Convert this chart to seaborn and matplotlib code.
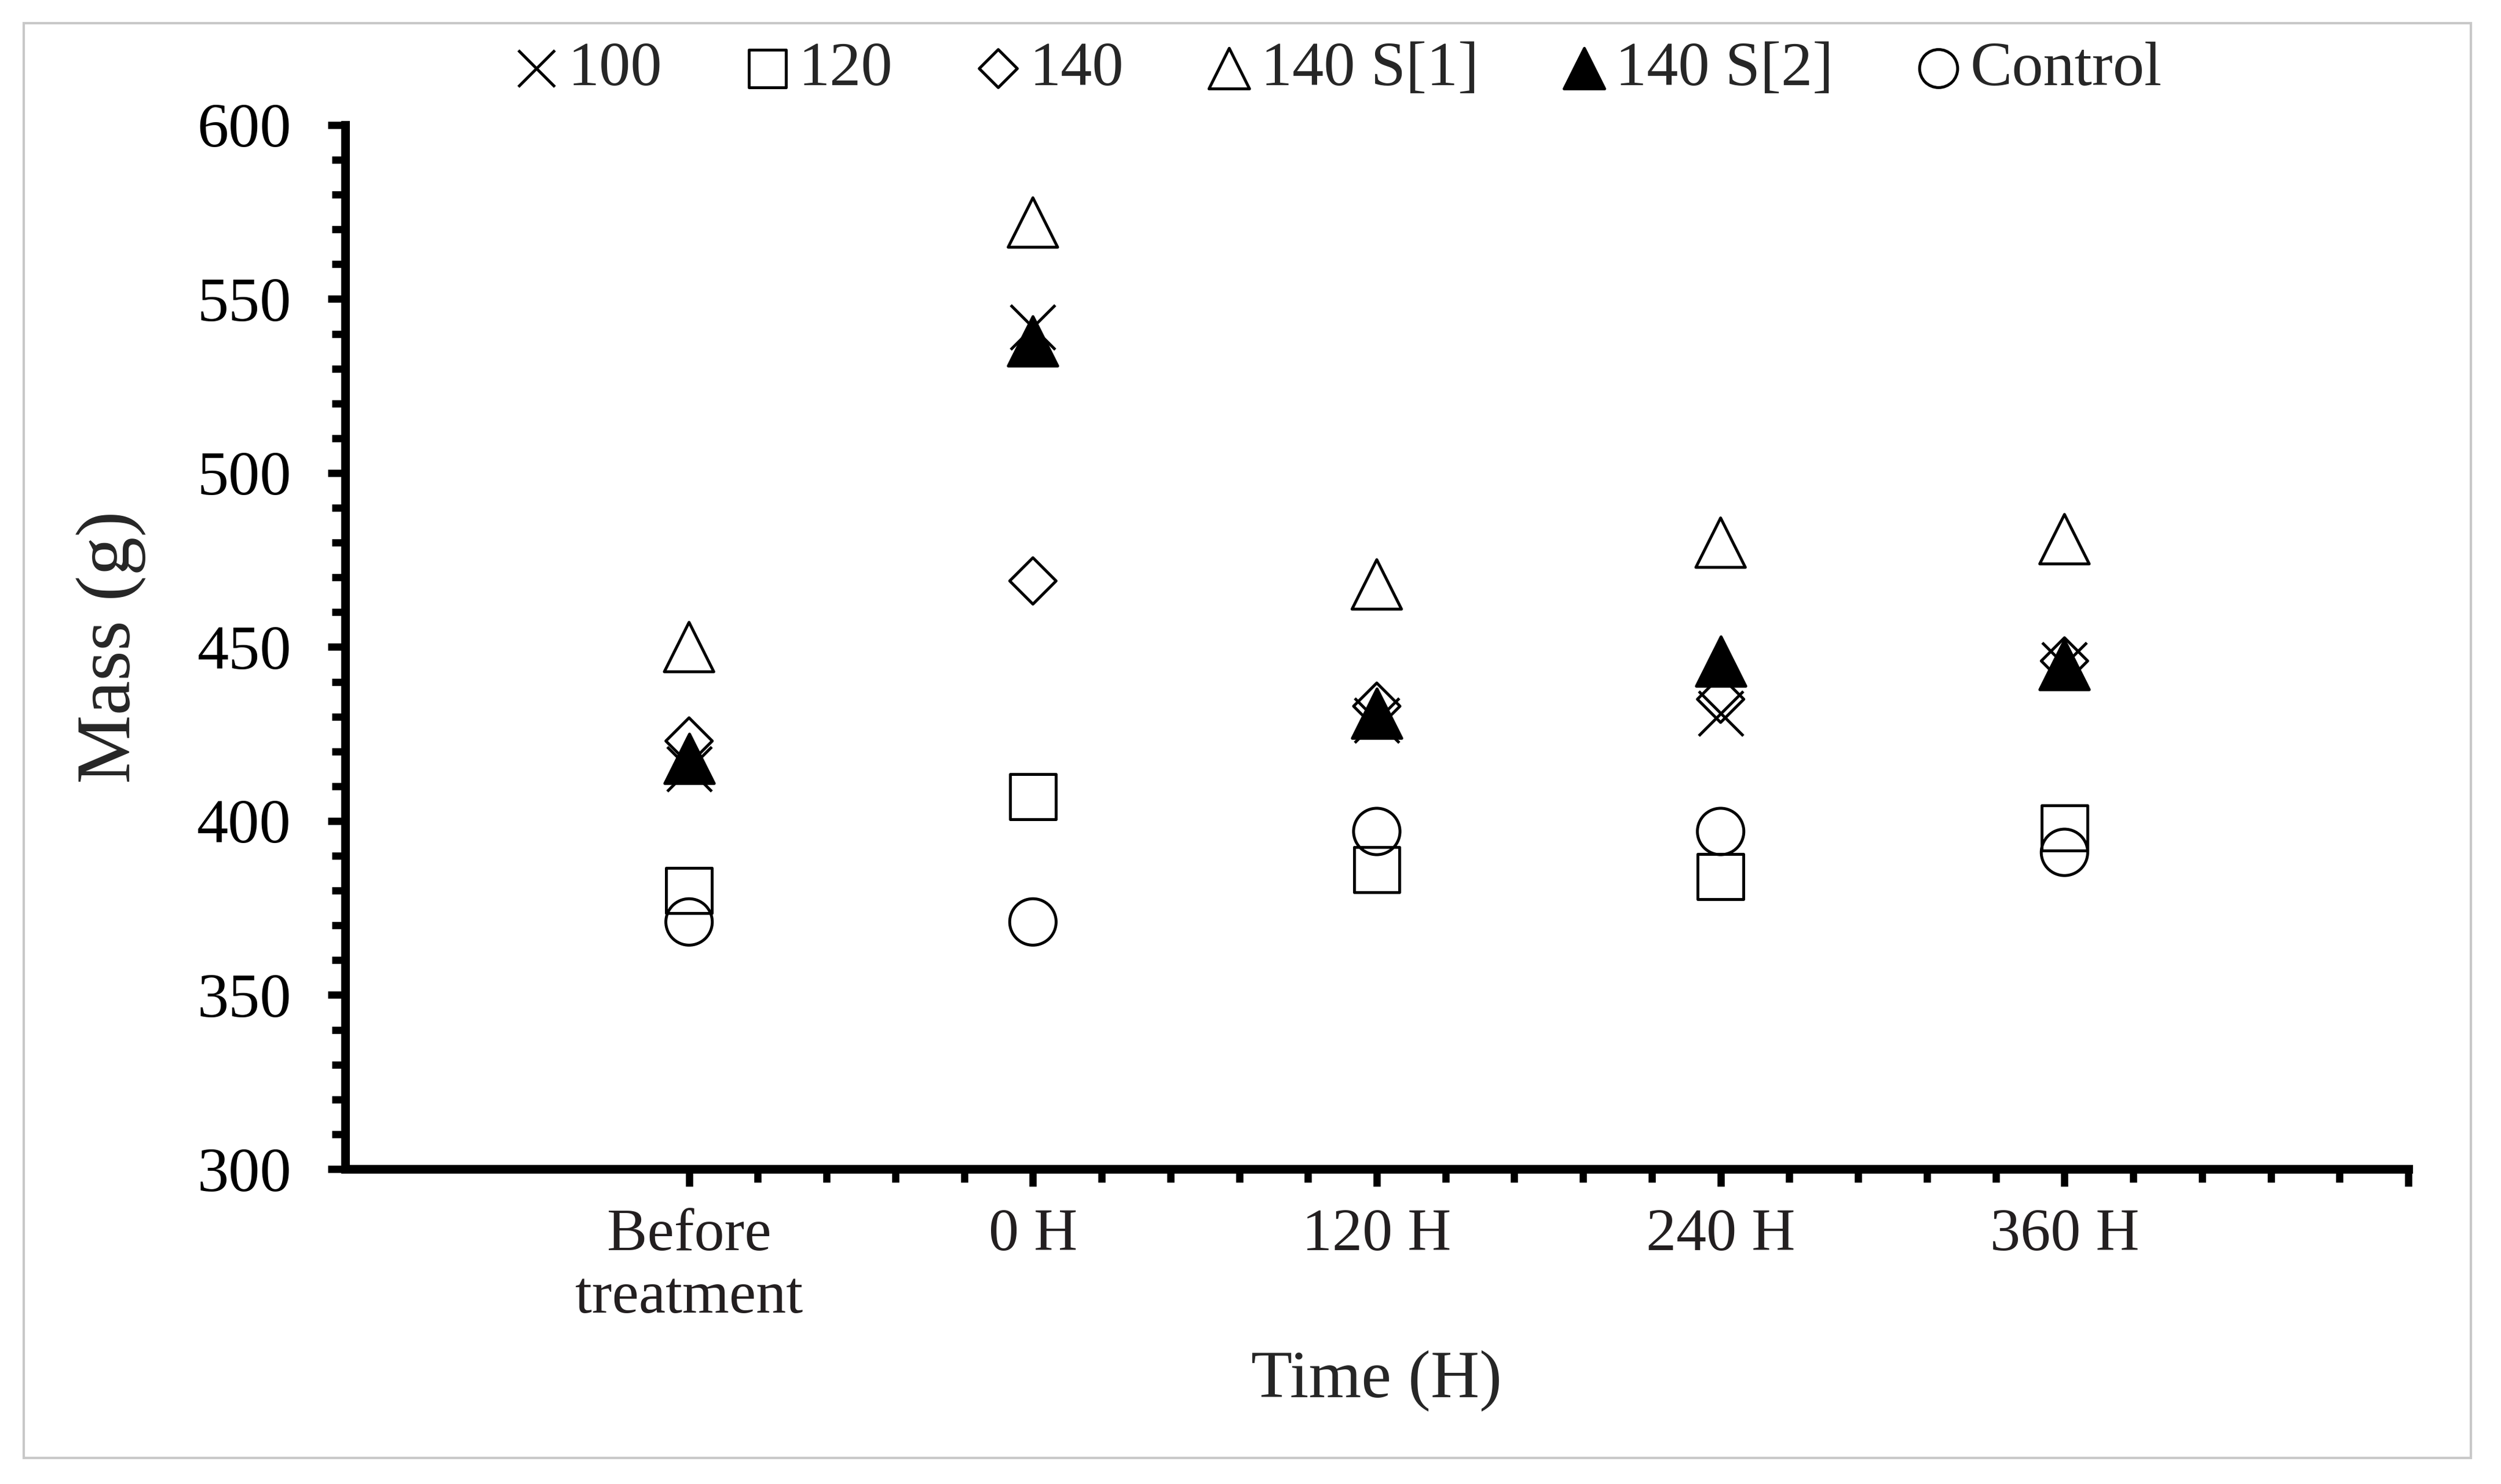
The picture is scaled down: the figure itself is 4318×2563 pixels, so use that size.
import numpy as np
import pandas as pd
import matplotlib
matplotlib.use('Agg')
import matplotlib.pyplot as plt
from matplotlib.ticker import FixedLocator, MultipleLocator
from matplotlib.patches import Rectangle
import seaborn as sns

# Data
categories = ['Before\ntreatment', '0 H', '120 H', '240 H', '360 H']
mass_100 = [415, 542, 429, 431, 445]
mass_120 = [380, 407, 386, 384, 398]
mass_140 = [423, 469, 433, 435, 446]
mass_140_s1 = [450, 572, 468, 480, 481]
mass_140_s2 = [418, 538, 431, 446, 445]
mass_control = [371, 371, 397, 397, 391]

series_names = ['100', '120', '140', '140 S[1]', '140 S[2]', 'Control']
series_values = [mass_100, mass_120, mass_140, mass_140_s1, mass_140_s2, mass_control]

# marker, size (pt^2), face colour
styles = {
    '100': ('x', 340, 'black'),
    '120': ('s', 355, 'none'),
    '140': ('D', 185, 'none'),
    '140 S[1]': ('^', 420, 'none'),
    '140 S[2]': ('^', 420, 'black'),
    'Control': ('o', 370, 'none'),
}

rows = []
for name, vals in zip(series_names, series_values):
    for i, v in enumerate(vals):
        rows.append({'Series': name, 'Pos': i, 'Mass': v})
data = pd.DataFrame(rows)

sns.set_style('ticks')
plt.rcParams['font.family'] = ['Liberation Serif', 'DejaVu Serif']

fig = plt.figure(figsize=(4318 / 300, 2563 / 300), dpi=300)
ax = fig.add_axes([596 / 4318, 1 - 2019 / 2563, (4158 - 596) / 4318, (2019 - 216) / 2563])

for name in series_names:
    marker, size, face = styles[name]
    sub = data[data['Series'] == name]
    sns.scatterplot(x='Pos', y='Mass', data=sub, ax=ax, marker=marker, s=size,
                    color='black', facecolors=face, edgecolor='black',
                    linewidth=1.2, label=name, zorder=3, clip_on=False)

ax.set_xlim(-1, 5)
ax.set_ylim(300, 600)

# axes styling
for side in ['top', 'right']:
    ax.spines[side].set_visible(False)
for side in ['left', 'bottom']:
    ax.spines[side].set_linewidth(3.6)
    ax.spines[side].set_color('black')

ax.xaxis.set_major_locator(FixedLocator([0, 1, 2, 3, 4, 5]))
ax.set_xticklabels(categories + [''])
ax.xaxis.set_minor_locator(FixedLocator([i / 5 for i in range(0, 26) if i % 5 != 0]))
ax.yaxis.set_major_locator(MultipleLocator(50))
ax.yaxis.set_minor_locator(MultipleLocator(10))

ax.tick_params(axis='both', which='major', direction='out', length=7.3, width=3, color='black')
ax.tick_params(axis='both', which='minor', direction='out', length=5.5, width=3, color='black')
ax.tick_params(axis='x', which='major', labelsize=25, pad=9, labelcolor='#231F20')
ax.tick_params(axis='y', which='major', labelsize=26, pad=15, labelcolor='black')
for lbl in ax.get_xticklabels():
    lbl.set_linespacing(1.2)

ax.set_xlabel('Time (H)', fontsize=28, labelpad=10)
ax.set_ylabel('Mass (g)', fontsize=32, labelpad=21)

# legend across the top
handles, labels = ax.get_legend_handles_labels()
if ax.legend_:
    ax.legend_.remove()
fig.legend(handles, labels, loc='center', bbox_to_anchor=(0.535, 0.953), ncol=6,
           frameon=False, fontsize=26, markerscale=0.82, handlelength=0.7,
           handletextpad=0.15, columnspacing=1.33, scatterpoints=1,
           borderaxespad=0)

# light grey frame around the whole picture
fig.patches.append(Rectangle((41 / 4318, 1 - 2518 / 2563), (4266 - 41) / 4318, (2518 - 40) / 2563,
                             transform=fig.transFigure, fill=False, edgecolor='#c8c8c8',
                             linewidth=1.0, zorder=0))

fig.savefig('out.png', dpi=300, facecolor='white')
